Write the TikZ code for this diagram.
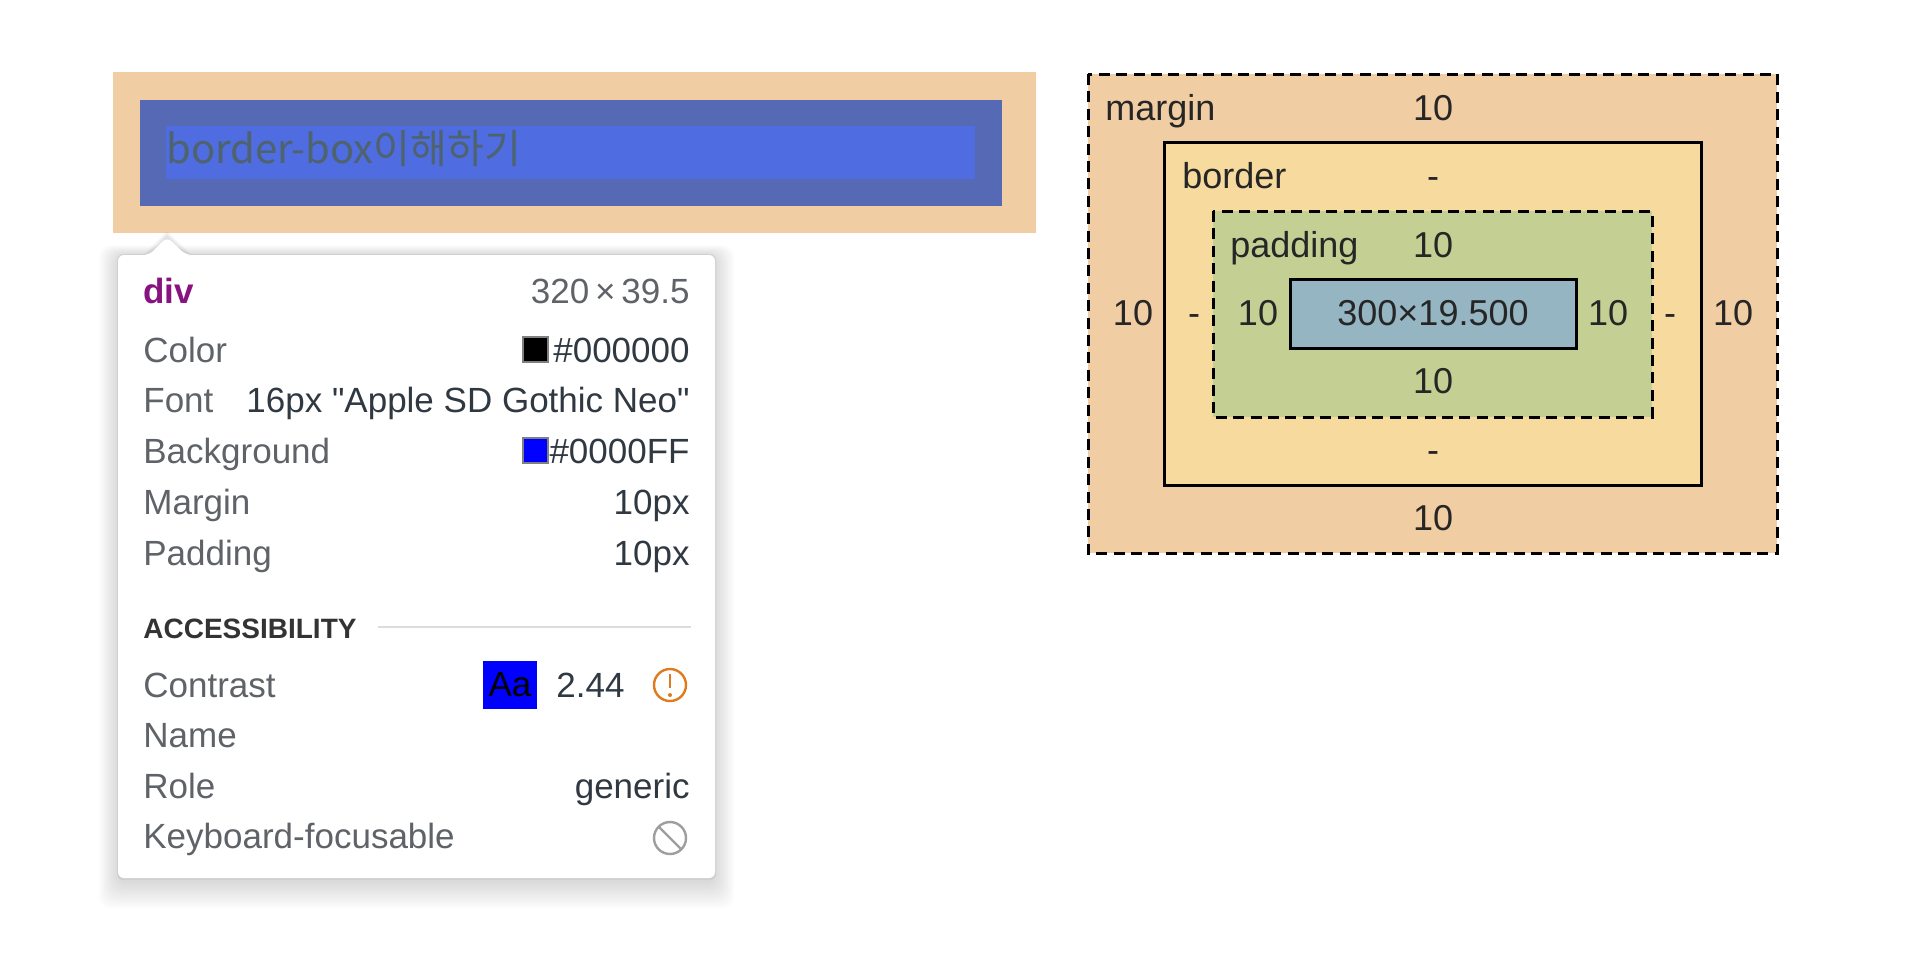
\documentclass[tikz,border=0pt]{standalone}
\usepackage{fontspec}
\setmainfont{Liberation Sans}[Ligatures=TeXOff]
\newfontfamily\krfont{Noto Sans CJK KR}
\definecolor{marginclr}{HTML}{F0CDA3}
\definecolor{borderblue}{HTML}{5669B5}
\definecolor{contentblue}{HTML}{4F6CE0}
\definecolor{sampletext}{HTML}{4E636C}
\definecolor{bmborder}{HTML}{F7DB9E}
\definecolor{bmpadding}{HTML}{C4CF93}
\definecolor{bmcontent}{HTML}{94B5C1}
\definecolor{labelgray}{HTML}{5F6368}
\definecolor{valuedark}{HTML}{303942}
\definecolor{tagpurple}{HTML}{881280}
\definecolor{warnorange}{HTML}{E07A1F}
\definecolor{sepgray}{HTML}{DADCE0}
\definecolor{icongray}{HTML}{9E9E9E}
\tikzset{
    lbl/.style={anchor=base west, inner sep=0pt, text=labelgray, font=\fontsize{17.5}{21}\selectfont},
    val/.style={anchor=base east, inner sep=0pt, text=valuedark, font=\fontsize{17.5}{21}\selectfont},
    swatch/.style={draw=gray, line width=1pt},
    bm/.style={anchor=base, inner sep=0pt, text=black!85, font=\fontsize{18}{21}\selectfont},
    bmbox/.style={line width=1.5pt},
    bmdash/.style={line width=1.5pt, dash pattern=on 5.5pt off 3.2pt},
}
\begin{document}
\begin{tikzpicture}[x=0.5pt, y=-0.5pt]
    \useasboundingbox[fill=white] (0,0) rectangle (1920,960);
    % highlighted element
    \fill[marginclr] (113,72) rectangle (1036,233);
    \fill[borderblue] (140,100) rectangle (1002,206);
    \fill[contentblue] (166,126) rectangle (975,179);
    \node[anchor=base west, inner sep=0pt, text=sampletext, font=\krfont\fontsize{20}{24}\selectfont] (sample) at (166,163) {border-box이해하기};
    % tooltip
    \foreach \s in {1,...,12}
        \fill[black, opacity=0.012, rounded corners=6pt] (118-1.6*\s,255-0.8*\s) rectangle (715+1.6*\s,882+2.2*\s);
    \foreach \s in {1,...,5}
        \fill[black, opacity=0.025] (149-1.5*\s,256) -- (167,237-1.2*\s) -- (186+1.5*\s,256) -- cycle;
    \fill[black, opacity=0.05, rounded corners=3pt] (117,254) rectangle (716,880);
    \fill[white, rounded corners=3pt] (118,255) -- (149,255) -- (167,237) -- (186,255) -- (715,255) -- (715,878) -- (118,878) -- cycle;
    \node[lbl, text=tagpurple, font=\bfseries\fontsize{17.5}{21}\selectfont] (tag) at (143,303) {div};
    \node[val, text=labelgray] (size) at (690,303) {320\,×\,39.5};
    \node[lbl] (colorlbl) at (143,362) {Color};
    \draw[swatch, fill=black] (523,337) rectangle (548,362);
    \node[val] (colorval) at (690,362) {\#000000};
    \node[lbl] (fontlbl) at (143,412) {Font};
    \node[val] (fontval) at (690,412) {16px "Apple SD Gothic Neo"};
    \node[lbl] (bglbl) at (143,463) {Background};
    \draw[swatch, fill=blue] (523,438) rectangle (548,463);
    \node[val] (bgval) at (690,463) {\#0000FF};
    \node[lbl] (marginlbl) at (143,514) {Margin};
    \node[val] (marginval) at (690,514) {10px};
    \node[lbl] (paddinglbl) at (143,565) {Padding};
    \node[val] (paddingval) at (690,565) {10px};
    \node[anchor=base west, inner sep=0pt, text=black!80, font=\bfseries\fontsize{14}{17}\selectfont] (access) at (143,638) {ACCESSIBILITY};
    \coordinate (sepend) at (691,627);
    \draw[sepgray, line width=1pt] (access.east |- sepend) ++(21,0) -- (sepend);
    \node[lbl] (contrastlbl) at (143,697) {Contrast};
    \node[fill=blue, text=black, inner sep=0pt, minimum width=27pt, minimum height=24pt, font=\fontsize{17.5}{21}\selectfont] (aa) at (510,685) {Aa};
    \node[val] (ratio) at (625,697) {2.44};
    \draw[warnorange, line width=1.2pt] (670,685) circle (8pt);
    \draw[warnorange, line width=1.4pt] (670,674) -- (670,688);
    \fill[warnorange] (670,695) circle (1pt);
    \node[lbl] (namelbl) at (143,747) {Name};
    \node[lbl] (rolelbl) at (143,798) {Role};
    \node[val] (roleval) at (690,798) {generic};
    \node[lbl] (focuslbl) at (143,848) {Keyboard-focusable};
    \draw[icongray, line width=1.2pt] (670,838) circle (8pt);
    \draw[icongray, line width=1.2pt] (670,838) ++(135:8pt) -- ++(-45:16pt);
    % box model
    \draw[bmdash, fill=marginclr] (1088,74) rectangle (1777,553);
    \draw[bmbox, fill=bmborder] (1164,142) rectangle (1701,485);
    \draw[bmdash, fill=bmpadding] (1213,211) rectangle (1652,417);
    \draw[bmbox, fill=bmcontent] (1290,279) rectangle (1576,348);
    \node[bm, anchor=base west] (marginname) at (1105,120) {margin};
    \node[bm] (margintop) at (1433,120) {10};
    \node[bm, anchor=base west] (bordername) at (1182,188) {border};
    \node[bm] (bordertop) at (1433,188) {-};
    \node[bm, anchor=base west] (paddingname) at (1230,257) {padding};
    \node[bm] (paddingtop) at (1433,257) {10};
    \node[bm] (marginleft) at (1133,325) {10};
    \node[bm] (borderleft) at (1194,325) {-};
    \node[bm] (paddingleft) at (1258,325) {10};
    \node[bm] (content) at (1433,325) {300×19.500};
    \node[bm] (paddingright) at (1608,325) {10};
    \node[bm] (borderright) at (1670,325) {-};
    \node[bm] (marginright) at (1733,325) {10};
    \node[bm] (paddingbottom) at (1433,393) {10};
    \node[bm] (borderbottom) at (1433,462) {-};
    \node[bm] (marginbottom) at (1433,530) {10};
\end{tikzpicture}
\end{document}
